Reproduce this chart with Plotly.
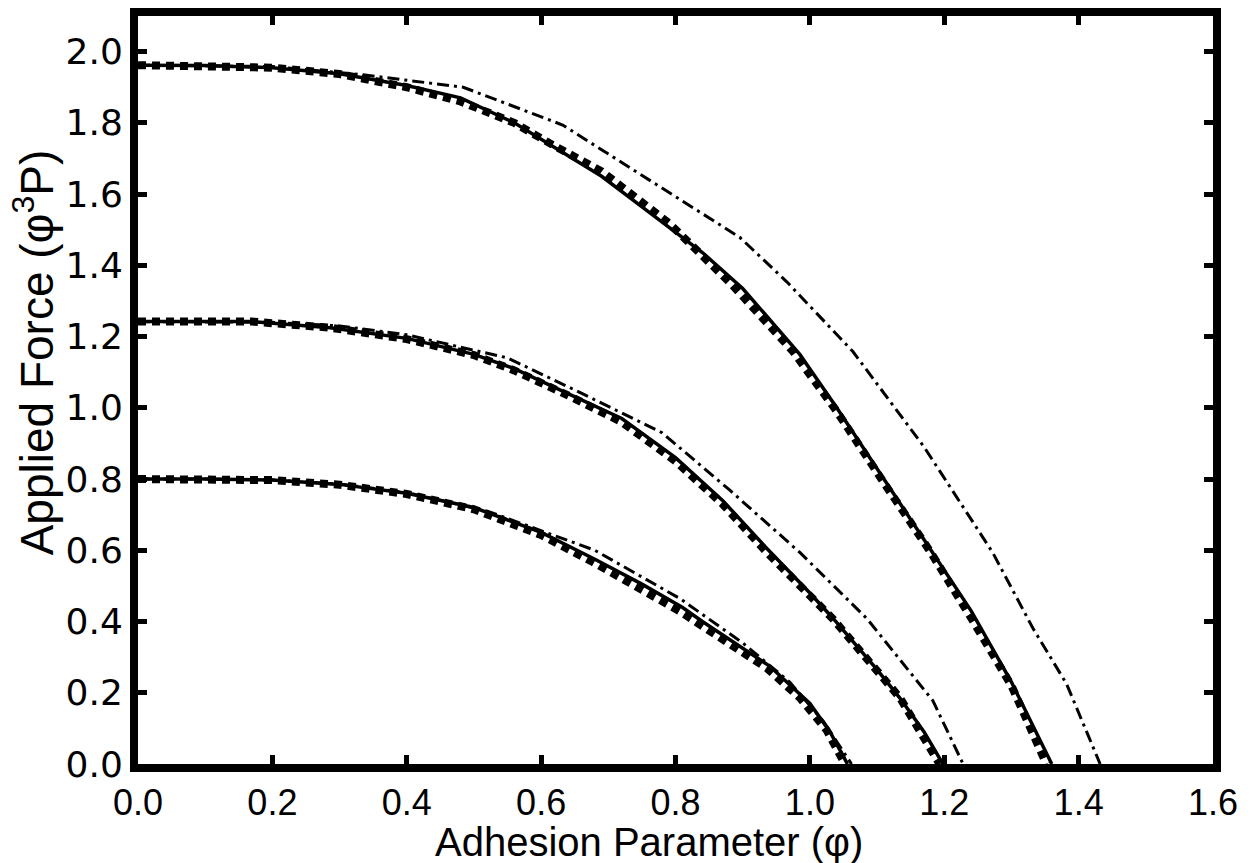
import plotly.graph_objects as go

# Upper family (highest applied force)
phi_top_solid = [0, 0.1, 0.2, 0.3, 0.4, 0.48, 0.56, 0.62, 0.69, 0.76, 0.84, 0.9, 0.985, 1.04, 1.11, 1.18, 1.24, 1.30, 1.36]
P_top_solid = [1.962, 1.961, 1.955, 1.938, 1.905, 1.87, 1.80, 1.73, 1.65, 1.55, 1.436, 1.335, 1.15, 1.0, 0.8, 0.6, 0.43, 0.23, 0.0]
phi_top_dot = [0, 0.1, 0.2, 0.3, 0.4, 0.48, 0.56, 0.62, 0.69, 0.79, 0.885, 0.975, 1.04, 1.11, 1.18, 1.24, 1.30, 1.352]
P_top_dot = [1.962, 1.961, 1.955, 1.937, 1.90, 1.86, 1.80, 1.735, 1.664, 1.519, 1.344, 1.158, 0.99, 0.79, 0.594, 0.41, 0.22, 0.0]
phi_top_dd = [0, 0.1, 0.2, 0.335, 0.484, 0.632, 0.787, 0.896, 0.966, 1.064, 1.17, 1.272, 1.332, 1.382, 1.432]
P_top_dd = [1.962, 1.961, 1.958, 1.935, 1.90, 1.794, 1.608, 1.478, 1.353, 1.158, 0.89, 0.594, 0.381, 0.225, 0.0]

# Middle family
phi_mid_solid = [0, 0.1, 0.17, 0.286, 0.4, 0.5, 0.56, 0.64, 0.72, 0.8, 0.87, 0.936, 1.0, 1.034, 1.1, 1.134, 1.17, 1.198]
P_mid_solid = [1.242, 1.242, 1.242, 1.225, 1.195, 1.15, 1.11, 1.04, 0.97, 0.86, 0.74, 0.605, 0.48, 0.41, 0.265, 0.185, 0.09, 0.0]
phi_mid_dot = [0, 0.1, 0.17, 0.286, 0.4, 0.5, 0.56, 0.64, 0.72, 0.8, 0.87, 0.936, 1.034, 1.134, 1.193]
P_mid_dot = [1.242, 1.242, 1.242, 1.225, 1.193, 1.148, 1.105, 1.035, 0.96, 0.85, 0.73, 0.594, 0.408, 0.186, 0.0]
phi_mid_dd = [0, 0.1, 0.2, 0.3, 0.4, 0.55, 0.65, 0.78, 0.88, 0.985, 1.085, 1.183, 1.228]
P_mid_dd = [1.242, 1.242, 1.24, 1.23, 1.205, 1.14, 1.05, 0.93, 0.77, 0.594, 0.408, 0.178, 0.0]

# Lower family
phi_low_solid = [0, 0.1, 0.2, 0.3, 0.4, 0.5, 0.6, 0.68, 0.75, 0.81, 0.84, 0.94, 1.0, 1.03, 1.056]
P_low_solid = [0.80, 0.80, 0.797, 0.785, 0.76, 0.72, 0.65, 0.575, 0.505, 0.44, 0.40, 0.275, 0.17, 0.09, 0.0]
phi_low_dot = [0, 0.1, 0.2, 0.3, 0.4, 0.5, 0.6, 0.677, 0.75, 0.807, 0.836, 0.936, 0.985, 1.025, 1.052]
P_low_dot = [0.80, 0.80, 0.797, 0.784, 0.758, 0.715, 0.643, 0.567, 0.49, 0.428, 0.392, 0.269, 0.186, 0.095, 0.0]
phi_low_dd = [0, 0.1, 0.2, 0.3, 0.4, 0.52, 0.68, 0.807, 0.9, 0.97, 1.02, 1.062]
P_low_dd = [0.80, 0.80, 0.797, 0.786, 0.762, 0.71, 0.60, 0.464, 0.34, 0.23, 0.12, 0.0]

x_ticks = [0.0, 0.2, 0.4, 0.6, 0.8, 1.0, 1.2, 1.4, 1.6]
y_ticks = [0.0, 0.2, 0.4, 0.6, 0.8, 1.0, 1.2, 1.4, 1.6, 1.8, 2.0]

x_title = "Adhesion Parameter (φ)"
y_title = "Applied Force (φ<sup>3</sup>P)"

SOLID = dict(color="black", width=3.5)
DOTTED = dict(color="black", width=8, dash="8px,6px")
DASHDOT = dict(color="black", width=3, dash="12px,5px,3px,5px")

fig = go.Figure()
series = [
    (phi_top_dot, P_top_dot, DOTTED), (phi_top_solid, P_top_solid, SOLID), (phi_top_dd, P_top_dd, DASHDOT),
    (phi_mid_dot, P_mid_dot, DOTTED), (phi_mid_solid, P_mid_solid, SOLID), (phi_mid_dd, P_mid_dd, DASHDOT),
    (phi_low_dot, P_low_dot, DOTTED), (phi_low_solid, P_low_solid, SOLID), (phi_low_dd, P_low_dd, DASHDOT),
]
for xs, ys, ln in series:
    fig.add_trace(go.Scatter(x=xs, y=ys, mode="lines", line=ln, showlegend=False, hoverinfo="skip"))

axis_common = dict(
    showgrid=False, zeroline=False,
    showline=True, linecolor="black", linewidth=8, mirror="allticks",
    ticks="inside", ticklen=9, tickwidth=5, tickcolor="black",
)

SANS = "Liberation Sans, Arial, sans-serif"

fig.update_layout(
    width=1256, height=863,
    margin=dict(l=138, r=43, t=8, b=99),
    paper_bgcolor="white", plot_bgcolor="white",
    xaxis=dict(
        range=[0, 1.6], tickvals=x_ticks, ticktext=[f"{v:.1f}" for v in x_ticks],
        tickfont=dict(family=SANS, size=36, color="black"),
        **axis_common,
    ),
    yaxis=dict(
        range=[0, 2.1], tickvals=y_ticks, ticktext=[f"{v:.1f}" for v in y_ticks],
        tickfont=dict(family="DejaVu Sans", size=36, color="black"),
        **axis_common,
    ),
    annotations=[
        dict(text=x_title, xref="paper", yref="paper", x=0.475, y=-0.072,
             xanchor="center", yanchor="top", showarrow=False,
             font=dict(family=SANS, size=40, color="black")),
        dict(text=y_title, xref="paper", yref="paper", x=-0.097, y=0.55,
             xanchor="center", yanchor="middle", textangle=-90, showarrow=False,
             font=dict(family=SANS, size=46, color="black")),
    ],
)

fig.write_html("out.html")
